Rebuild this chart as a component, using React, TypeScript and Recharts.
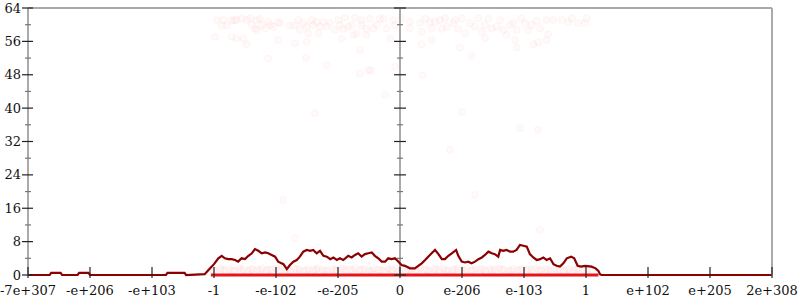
import { ComposedChart, Line, Scatter, XAxis, YAxis, ReferenceLine } from "recharts"

document.body.style.margin = "0"

// x positions: 20 units between labelled ticks, 0 in the middle
const xTicks = [-120, -100, -80, -60, -40, -20, 0, 20, 40, 60, 80, 100, 120]
const xLabels = ["-7e+307", "-e+206", "-e+103", "-1", "-e-102", "-e-205", "0", "e-206", "e-103", "1", "e+102", "e+205", "2e+308"]
const yTicks = [0, 4, 8, 12, 16, 20, 24, 28, 32, 36, 40, 44, 48, 52, 56, 60, 64]

// running count (dark red trace)
const trace: [number, number][] = [
  [-120, 0], [-113, 0], [-112.5, 0.5], [-109.5, 0.5], [-109, 0], [-104, 0], [-103.5, 0.5], [-100.5, 0.5],
  [-100, 0], [-75.5, 0], [-75, 0.5], [-69.5, 0.5], [-69, 0], [-63, 0.2], [-62, 1.0], [-60, 2.6],
  [-58.6, 4.0], [-57.5, 4.6], [-56.5, 4.0], [-55.4, 3.8], [-54.3, 3.8], [-53.2, 3.6], [-52.2, 3.2],
  [-51.1, 4.0], [-50, 3.8], [-48.9, 4.6], [-47.8, 5.2], [-46.8, 6.2], [-45.7, 5.8], [-44.6, 5.2],
  [-43.5, 5.4], [-42.5, 5.2], [-41.4, 4.8], [-40.3, 4.4], [-39.3, 3.2], [-37.6, 2.6], [-36.5, 1.4],
  [-35.5, 2.4], [-34.4, 3.2], [-33.3, 3.6], [-32.3, 4.4], [-31.2, 5.6], [-30.1, 6.0], [-29, 5.8],
  [-28, 6.0], [-26.9, 5.2], [-25.8, 5.8], [-24.7, 4.6], [-23.6, 4.4], [-22.5, 3.8], [-21.5, 4.2],
  [-20.4, 3.6], [-19.4, 4.0], [-18.3, 3.6], [-16.7, 4.6], [-15.6, 4.2], [-14.5, 4.8], [-13.5, 5.2],
  [-12.4, 4.4], [-11.3, 5.0], [-10.2, 5.2], [-9.1, 5.4], [-8.1, 4.6], [-7, 4.0], [-5.9, 3.2],
  [-4.8, 3.2], [-3.8, 4.0], [-2.7, 3.8], [-1.6, 4.0], [-0.5, 3.2], [0.5, 2.4], [1.6, 2.2], [3.2, 1.6],
  [4.8, 1.6], [5.9, 2.2], [7, 2.8], [8.1, 3.6], [9.1, 4.4], [10.2, 5.2], [11.3, 6.0], [12.4, 5.0],
  [13.5, 3.8], [14.5, 3.8], [15.6, 4.6], [16.7, 5.2], [18.1, 6.0], [18.8, 4.6], [19.9, 3.2], [21, 3.0],
  [22, 3.2], [23.1, 2.8], [24.2, 3.2], [25.3, 3.8], [26.4, 4.2], [27.4, 4.8], [28.5, 5.6], [29.6, 5.2],
  [30.6, 5.0], [31.7, 4.4], [32.3, 6.0], [33.3, 5.8], [34.4, 6.0], [35.5, 5.6], [36.5, 5.6], [37.6, 6.0],
  [38.7, 7.2], [39.8, 7.0], [40.9, 6.8], [41.9, 5.0], [43, 4.2], [44.1, 3.6], [45.2, 3.8], [46.2, 4.2],
  [47.3, 3.6], [48.4, 4.0], [49.5, 2.6], [50.5, 2.2], [51.6, 2.0], [52.7, 2.8], [53.8, 4.0], [55.2, 4.4],
  [56.2, 4.0], [57.3, 2.2], [58.4, 2.0], [59.7, 2.2], [61.8, 2.0], [63.1, 1.6], [64, 1.0], [64.5, 0.2],
  [65, 0], [120, 0],
]

// solid red run along zero
const zeroRun: [number, number][] = [[-61, 0], [64, 0]]

// faint samples near the top
const topDots: [number, number][] = [
  [-59.1, 61.1], [-57.5, 59.8], [-57, 61.1], [-55.9, 59.8], [-54.3, 61], [-53.5, 61.1], [-52.7, 61.1],
  [-51.1, 61.4], [-49.5, 61.1], [-48.4, 61.5], [-47.8, 59.9], [-46.8, 59.1], [-46.2, 61.1], [-45.2, 61.4],
  [-44.6, 59.9], [-43.5, 59.1], [-42.5, 60.7], [-41.9, 59.9], [-40.9, 59.5], [-39.3, 60.6], [-38.7, 60.4],
  [-35.5, 59.8], [-33.9, 59.8], [-32.8, 61.1], [-32.3, 58.7], [-31.2, 60.4], [-30.1, 59.5], [-29.6, 57.9],
  [-28.5, 61.1], [-28, 59.9], [-26.9, 60.7], [-25.8, 59.5], [-24.7, 60.7], [-23.6, 59.5], [-22.6, 60.4],
  [-21, 58.7], [-19.9, 61.1], [-19.4, 59.9], [-18.3, 59.0], [-17.7, 61.7], [-16.7, 59.5], [-15.6, 59.9],
  [-14.5, 61.7], [-14, 57.9], [-12.4, 59.9], [-12.4, 61.1], [-10.8, 59.0], [-9.7, 61.4], [-8.6, 59.1],
  [-7.5, 59.9], [-6.5, 61.4], [-5.4, 61.4], [-4.3, 59.1], [-3.2, 56.7], [-2.2, 61.1], [-1.6, 59.9],
  [-59.7, 57.1], [-54.3, 57.1], [-52.7, 56.7], [-50.5, 56.7], [-49.5, 55.3], [-46.2, 58.7], [-39.3, 56.3],
  [-33.9, 55.5], [-30.1, 55.9], [-26.4, 57.9], [-18.8, 56.7], [-15, 57.5], [-10.8, 57.5], [-42.5, 51.9],
  [-30.3, 52.1], [-23.6, 50.3], [-12.9, 48.3], [-10.2, 49.1], [-1.6, 49.9],
  [0.5, 61.5], [3.2, 60.7], [3.2, 59.1], [6.5, 60.4], [7, 58.3], [8.1, 61.4], [9.7, 60.6], [10.2, 59.1],
  [11.3, 60.7], [12.9, 61.1], [13.5, 59.0], [14.5, 61.5], [15.1, 59.5], [17.2, 60.4], [17.7, 61.1],
  [18.8, 59.0], [19.9, 61.5], [21, 57.9], [22.6, 60.4], [24.2, 59.5], [25.3, 61.5], [26.4, 58.3],
  [27.4, 59.9], [28.5, 61.4], [29.6, 59.1], [31.2, 59.5], [32.3, 61.1], [33.3, 58.7], [34.4, 57.5],
  [35.5, 59.9], [36.5, 60.4], [37.6, 58.7], [39.2, 61.5], [40.3, 60.4], [41.4, 58.7], [42.5, 59.9],
  [44.1, 60.9], [45.2, 59.1], [47.3, 61.1], [49.5, 61.1], [52.2, 61.1], [54.3, 60.7], [55.4, 61.5],
  [57.5, 60.4], [59.7, 60.4], [60.2, 61.5], [7, 55.3], [10.2, 56.3], [19.4, 54.5], [23.1, 52.6],
  [27.4, 56.7], [37.1, 56.3], [37.6, 54.5], [43, 55.3], [44.6, 55.8], [47.3, 56.3], [47.8, 57.7], [7.3, 47.8],
  [-9.4, 49.1], [-4.8, 43.1], [-27.4, 38.8], [20, 39.1], [16.1, 30.0], [44.5, 34.8], [-37.7, 18],
  [-33.9, 8.9], [24.2, 19.2], [38.7, 35.2], [-12.9, 53.9], [45.2, 10.8],
]

// faint samples hugging the bottom
const lowDots: [number, number][] = [
  [-61, 1.3], [-59.5, 1.0], [-58, 1.5], [-56.5, 1.2], [-55, 1.4], [-53.5, 1.1], [-52, 1.6], [-50.5, 1.3],
  [-49, 1.0], [-47.5, 1.4], [-46, 1.2], [-44.5, 1.5], [-43, 1.1], [-41.5, 1.3], [-40, 1.6], [-38.5, 1.2],
  [-37, 1.4], [-35.5, 1.1], [-34, 1.5], [-32.5, 1.3], [-31, 1.0], [-29.5, 1.4], [-28, 1.2], [-26.5, 1.6],
  [-25, 1.3], [-23.5, 1.1], [-22, 1.4], [-20.5, 1.2], [-19, 1.5], [-17.5, 1.1], [-16, 1.3], [-14.5, 1.6],
  [-13, 1.2], [-11.5, 1.4], [-10, 1.1], [-8.5, 1.5], [-7, 1.3], [-5.5, 1.0], [-4, 1.4], [-2.5, 1.2],
  [-1, 1.5], [0.5, 1.3], [2, 1.1], [3.5, 1.4], [5, 1.2], [6.5, 1.6], [8, 1.3], [9.5, 1.0], [11, 1.4],
  [12.5, 1.2], [14, 1.5], [15.5, 1.1], [17, 1.3], [18.5, 1.6], [20, 1.2], [21.5, 1.4], [23, 1.1],
  [24.5, 1.5], [26, 1.3], [27.5, 1.0], [29, 1.4], [30.5, 1.2], [32, 1.6], [33.5, 1.3], [35, 1.1],
  [36.5, 1.4], [38, 1.2], [39.5, 1.5], [41, 1.1], [42.5, 1.3], [44, 1.6], [45.5, 1.2], [47, 1.4],
  [48.5, 1.1], [50, 1.5], [51.5, 1.3], [53, 1.0], [54.5, 1.4], [56, 1.2], [57.5, 1.5], [59, 1.3],
  [60.5, 1.1], [62, 1.3],
  [-60.2, 1.1], [-57.3, 1.3], [-54.2, 1.0], [-51.3, 1.2], [-48.1, 1.4], [-45.2, 1.1], [-42.3, 1.3],
  [-39.2, 1.0], [-36.2, 1.2], [-33.3, 1.4], [-30.2, 1.1], [-27.2, 1.3], [-24.3, 1.0], [-21.2, 1.2],
  [-18.3, 1.4], [-15.2, 1.1], [-12.3, 1.3], [-9.2, 1.0], [-6.3, 1.2], [-3.2, 1.4], [-0.3, 1.1],
  [2.8, 1.3], [5.7, 1.0], [8.8, 1.2], [11.7, 1.4], [14.8, 1.1], [17.7, 1.3], [20.8, 1.0], [23.7, 1.2],
  [26.8, 1.4], [29.7, 1.1], [32.8, 1.3], [35.7, 1.0], [38.8, 1.2], [41.7, 1.4], [44.8, 1.1],
  [47.7, 1.3], [50.8, 1.0], [53.7, 1.2], [56.8, 1.4], [59.7, 1.1],
]

const toRows = (pts: [number, number][]) => pts.map(([u, v]) => ({ u, v }))
const centerTicks = yTicks.map((v) => ({ u: 0, v }))

const FONT = "DejaVu Serif"

const LeftTick = (props: any) => {
  const { x, y, payload } = props
  const major = payload.value % 8 === 0
  return (
    <g>
      <line x1={major ? x - 6 : x - 3} x2={major ? x + 5 : x + 3} y1={y} y2={y} stroke={major ? "#222" : "#777"} strokeWidth={1.2} />
      {major && (
        <text x={x - 7} y={y} dy={4.5} textAnchor="end" fontFamily={FONT} fontSize={13} fill="#111">
          {payload.value}
        </text>
      )}
    </g>
  )
}

const RightTick = (props: any) => {
  const { x, y, payload } = props
  const major = payload.value % 8 === 0
  return <line x1={major ? x - 5 : x - 3} x2={major ? x + 6 : x + 3} y1={y} y2={y} stroke={major ? "#222" : "#777"} strokeWidth={1.2} />
}

const BottomTick = (props: any) => {
  const { x, y, payload } = props
  const i = xTicks.indexOf(payload.value)
  return (
    <g>
      <line x1={x} x2={x} y1={y - 8} y2={y + 3} stroke="#222" strokeWidth={1.2} />
      <text x={x} y={y + 20} textAnchor="middle" fontFamily={FONT} fontSize={13} fill="#111">
        {xLabels[i]}
      </text>
    </g>
  )
}

const CenterTick = (props: any) => {
  const { cx, cy, payload } = props
  const major = payload.v % 8 === 0
  return <line x1={major ? cx - 6 : cx - 3} x2={major ? cx + 6 : cx + 3} y1={cy} y2={cy} stroke={major ? "#222" : "#777"} strokeWidth={1.2} />
}

const Dot = (props: any) => (
  <circle cx={props.cx} cy={props.cy} r={3.5} fill="#ff1a1a" fillOpacity={0.025} stroke="#ff1a1a" strokeOpacity={0.04} />
)

export default function App() {
  return (
    <ComposedChart width={800} height={300} margin={{ top: 8, right: 0, bottom: 0, left: 0 }}>
      <XAxis
        type="number"
        dataKey="u"
        domain={[-120, 120]}
        ticks={xTicks}
        height={25}
        tickSize={0}
        tickMargin={0}
        tickLine={false}
        axisLine={false}
        tick={<BottomTick />}
        interval={0}
      />
      <YAxis
        yAxisId="l"
        type="number"
        dataKey="v"
        domain={[0, 64]}
        ticks={yTicks}
        width={28}
        tickSize={0}
        tickMargin={0}
        tickLine={false}
        axisLine={{ stroke: "#aaa", strokeWidth: 2 }}
        tick={<LeftTick />}
        interval={0}
      />
      <YAxis
        yAxisId="r"
        orientation="right"
        type="number"
        domain={[0, 64]}
        ticks={yTicks}
        width={28}
        tickSize={0}
        tickMargin={0}
        tickLine={false}
        axisLine={{ stroke: "#aaa", strokeWidth: 2 }}
        tick={<RightTick />}
        interval={0}
      />
      <ReferenceLine yAxisId="l" y={64} stroke="#aaa" strokeWidth={2} />
      <ReferenceLine yAxisId="l" x={0} stroke="#aaa" strokeWidth={2} />
      <Scatter yAxisId="l" data={centerTicks} dataKey="v" shape={<CenterTick />} isAnimationActive={false} />
      <Scatter yAxisId="l" data={toRows(topDots)} dataKey="v" shape={<Dot />} isAnimationActive={false} />
      <Scatter yAxisId="l" data={toRows(lowDots)} dataKey="v" shape={<Dot />} isAnimationActive={false} />
      <Line yAxisId="l" data={toRows(zeroRun)} dataKey="v" type="linear" stroke="#e8141c" strokeWidth={3} dot={false} isAnimationActive={false} />
      <Line yAxisId="l" data={toRows(trace)} dataKey="v" type="linear" stroke="#8b0000" strokeWidth={2.2} dot={false} isAnimationActive={false} />
    </ComposedChart>
  )
}
